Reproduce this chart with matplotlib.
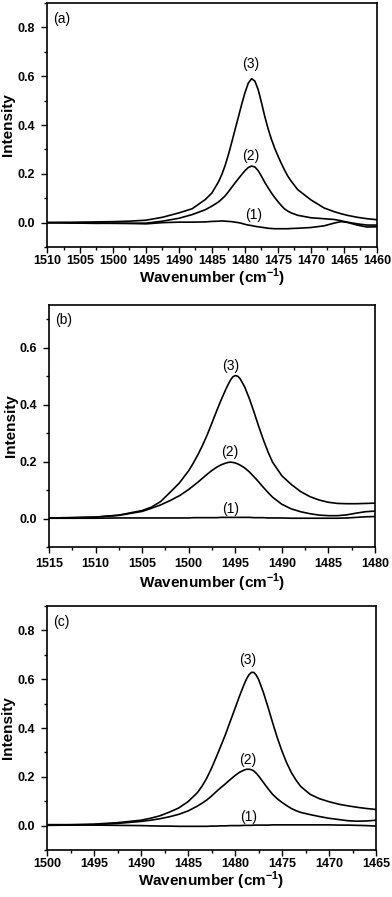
import matplotlib
matplotlib.use('Agg')
import matplotlib.pyplot as plt
from matplotlib.ticker import MultipleLocator

plt.rcParams['font.family'] = ['Liberation Sans', 'DejaVu Sans']
plt.rcParams['mathtext.fontset'] = 'custom'
plt.rcParams['mathtext.rm'] = 'Liberation Sans'
plt.rcParams['mathtext.bf'] = 'Liberation Sans:bold'

# panel (a)
wn_a = [1510, 1507.5, 1505, 1502.5, 1500, 1497.5, 1495, 1492.5, 1490, 1488, 1486, 1485,
        1484, 1483.5, 1483, 1482.5, 1482, 1481.5, 1481, 1480.5, 1480, 1479.5, 1479,
        1478.5, 1478, 1477.5, 1477, 1476.5, 1476, 1475.5, 1475, 1474.5, 1474, 1473.5, 1473,
        1472, 1470, 1468, 1466.5, 1465.5, 1464.5, 1463, 1461.5, 1460]
a1 = [0.000, 0.000, -0.002, -0.003, -0.002, -0.003, -0.005, 0.000, 0.002, 0.002, 0.003, 0.005,
      0.006, 0.007, 0.006, 0.005, 0.004, 0.002, 0.000, -0.003, -0.007, -0.010, -0.012,
      -0.015, -0.017, -0.019, -0.021, -0.023, -0.024, -0.025, -0.025, -0.025, -0.025, -0.025, -0.024,
      -0.023, -0.020, -0.013, -0.002, 0.004, 0.001, -0.010, -0.018, -0.017]
a2 = [0.000, -0.001, -0.002, -0.002, -0.003, -0.003, -0.002, 0.006, 0.018, 0.033, 0.053, 0.068,
      0.085, 0.097, 0.110, 0.127, 0.145, 0.163, 0.180, 0.197, 0.213, 0.226, 0.232,
      0.228, 0.213, 0.190, 0.165, 0.143, 0.122, 0.103, 0.086, 0.070, 0.056, 0.047, 0.040,
      0.030, 0.020, 0.016, 0.013, 0.008, 0.002, -0.005, -0.010, -0.010]
a3 = [0.000, 0.001, 0.002, 0.003, 0.004, 0.006, 0.010, 0.022, 0.040, 0.057, 0.095, 0.122,
      0.168, 0.198, 0.235, 0.280, 0.330, 0.382, 0.433, 0.485, 0.533, 0.572, 0.590,
      0.580, 0.545, 0.492, 0.435, 0.385, 0.342, 0.305, 0.273, 0.243, 0.215, 0.190, 0.170,
      0.135, 0.093, 0.060, 0.045, 0.037, 0.030, 0.022, 0.016, 0.012]

# panel (b)
wn_b = [1515, 1512.5, 1510, 1507.5, 1505, 1504, 1503, 1502, 1501, 1500,
        1499.5, 1499, 1498.5, 1498, 1497.5, 1497, 1496.5, 1496,
        1495.75, 1495.5, 1495.25, 1495, 1494.75, 1494.5,
        1494, 1493.5, 1493, 1492.5, 1492, 1491.5, 1491,
        1490, 1489, 1488, 1487, 1486, 1485, 1484, 1483, 1482, 1481, 1480]
b1 = [0.001, 0.001, 0.001, 0.002, 0.002, 0.002, 0.002, 0.002, 0.002, 0.002,
      0.003, 0.003, 0.003, 0.003, 0.003, 0.003, 0.004, 0.004,
      0.004, 0.004, 0.004, 0.004, 0.004, 0.004,
      0.004, 0.004, 0.003, 0.003, 0.003, 0.002, 0.002,
      0.002, 0.001, 0.001, 0.001, 0.001, 0.001, 0.001, 0.002, 0.004, 0.006, 0.007]
b2 = [0.002, 0.003, 0.005, 0.011, 0.025, 0.036, 0.048, 0.063, 0.080, 0.102,
      0.115, 0.128, 0.142, 0.156, 0.169, 0.180, 0.189, 0.195,
      0.197, 0.198, 0.197, 0.195, 0.192, 0.188,
      0.178, 0.164, 0.147, 0.129, 0.110, 0.092, 0.075,
      0.050, 0.034, 0.024, 0.017, 0.012, 0.010, 0.010, 0.013, 0.019, 0.024, 0.026]
b3 = [0.002, 0.003, 0.005, 0.012, 0.028, 0.040, 0.060, 0.092, 0.125, 0.168,
      0.195, 0.225, 0.258, 0.295, 0.336, 0.378, 0.418, 0.455,
      0.472, 0.487, 0.498, 0.502, 0.500, 0.492,
      0.463, 0.422, 0.375, 0.325, 0.278, 0.235, 0.198,
      0.150, 0.120, 0.095, 0.077, 0.065, 0.057, 0.053, 0.052, 0.052, 0.053, 0.054]

# panel (c)
wn_c = [1500, 1497.5, 1495, 1492.5, 1490, 1489, 1488, 1487, 1486, 1485, 1484,
        1483.5, 1483, 1482.5, 1482, 1481.5, 1481, 1480.5, 1480, 1479.5, 1479,
        1478.75, 1478.5, 1478.25, 1478, 1477.75,
        1477.5, 1477, 1476.5, 1476, 1475.5, 1475, 1474.5, 1474, 1473.5, 1473,
        1472, 1471, 1470, 1469, 1468, 1467, 1466, 1465]
c1 = [0.004, 0.003, 0.002, 0.001, 0.000, -0.001, -0.002, -0.002, -0.003, -0.003, -0.003,
      -0.003, -0.003, -0.002, -0.002, -0.001, -0.001, 0.000, 0.000, 0.000, 0.001,
      0.001, 0.001, 0.001, 0.002, 0.002,
      0.002, 0.002, 0.002, 0.003, 0.003, 0.003, 0.003, 0.003, 0.003, 0.003,
      0.003, 0.003, 0.003, 0.002, 0.002, 0.001, 0.000, -0.002]
c2 = [0.001, 0.002, 0.004, 0.009, 0.017, 0.022, 0.028, 0.036, 0.046, 0.060, 0.080,
      0.092, 0.105, 0.121, 0.139, 0.156, 0.172, 0.189, 0.205, 0.219, 0.228,
      0.231, 0.231, 0.229, 0.224, 0.215,
      0.204, 0.178, 0.152, 0.128, 0.110, 0.095, 0.082, 0.070, 0.061, 0.054,
      0.045, 0.037, 0.030, 0.025, 0.020, 0.018, 0.019, 0.022]
c3 = [0.003, 0.004, 0.006, 0.012, 0.022, 0.030, 0.040, 0.055, 0.072, 0.098, 0.135,
      0.162, 0.195, 0.235, 0.280, 0.327, 0.375, 0.428, 0.480, 0.533, 0.582,
      0.603, 0.619, 0.628, 0.628, 0.617,
      0.600, 0.548, 0.487, 0.422, 0.360, 0.305, 0.257, 0.217, 0.186, 0.160,
      0.128, 0.110, 0.098, 0.088, 0.081, 0.075, 0.070, 0.066]

curve_labels = ['(1)', '(2)', '(3)']
panels = [
    dict(tag='(a)', wn=wn_a, ys=[a1, a2, a3], xlim=(1510, 1460), ylim=(-0.1, 0.9),
         yticks=[0.0, 0.2, 0.4, 0.6, 0.8], lab_x=[1478.7, 1479.1, 1479.1],
         lab_y=[0.030, 0.275, 0.649], rect=[0.1199, 0.7246, 0.8418, 0.2720],
         xpad=2.0, xlab_y=-0.128),
    dict(tag='(b)', wn=wn_b, ys=[b1, b2, b3], xlim=(1515, 1480), ylim=(-0.1, 0.75),
         yticks=[0.0, 0.2, 0.4, 0.6], lab_x=[1495.5, 1495.6, 1495.5],
         lab_y=[0.033, 0.232, 0.537], rect=[0.1250, 0.3902, 0.8316, 0.2698],
         xpad=4.0, xlab_y=-0.148),
    dict(tag='(c)', wn=wn_c, ys=[c1, c2, c3], xlim=(1500, 1465), ylim=(-0.1, 0.9),
         yticks=[0.0, 0.2, 0.4, 0.6, 0.8], lab_x=[1478.6, 1478.6, 1478.6],
         lab_y=[0.037, 0.269, 0.680], rect=[0.1199, 0.0524, 0.8393, 0.2720],
         xpad=1.5, xlab_y=-0.126),
]

fig = plt.figure(figsize=(3.92, 8.97), dpi=100)

for p in panels:
    ax = fig.add_axes(p['rect'])
    for y in p['ys']:
        ax.plot(p['wn'], y, color='black', lw=1.2)
    for lab, lx, ly in zip(curve_labels, p['lab_x'], p['lab_y']):
        ax.text(lx, ly, lab, ha='center', va='center', fontsize=10)
    ax.text(0.018, 0.965, p['tag'], transform=ax.transAxes, ha='left', va='top', fontsize=10)

    ax.set_xlim(*p['xlim'])
    ax.set_ylim(*p['ylim'])
    ax.xaxis.set_major_locator(MultipleLocator(5))
    ax.xaxis.set_minor_locator(MultipleLocator(2.5))
    ax.set_yticks(p['yticks'])
    ax.yaxis.set_minor_locator(MultipleLocator(0.1))
    ax.tick_params(which='both', direction='out', top=False, right=False, width=1.0)
    ax.tick_params(which='major', length=4)
    ax.tick_params(which='minor', length=2)
    ax.tick_params(axis='x', pad=p['xpad'])
    ax.tick_params(axis='y', pad=4.5)
    for t in ax.get_xticklabels() + ax.get_yticklabels():
        t.set_fontweight('bold')
        t.set_fontsize(9)
    for s in ax.spines.values():
        s.set_linewidth(1.2)

    ax.set_xlabel(r'Wavenumber (cm$^{\mathbf{-1}}$)', fontsize=11, fontweight='bold', va='center')
    ax.xaxis.set_label_coords(0.5, p['xlab_y'])
    ax.set_ylabel('Intensity', fontsize=11, fontweight='bold', va='center')
    ax.yaxis.set_label_coords(-0.118, 0.5)

fig.savefig('out.png', dpi=100)
